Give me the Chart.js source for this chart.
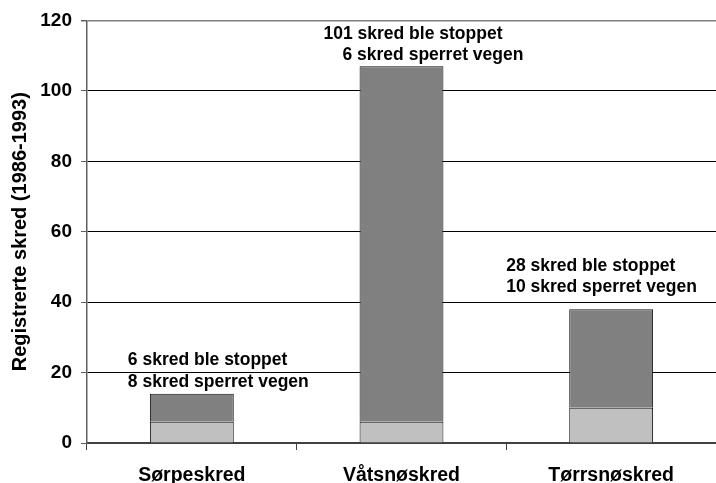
<!DOCTYPE html>
<html lang="no">
<head>
<meta charset="utf-8">
<title>Registrerte skred 1986-1993</title>
<script src="https://cdn.jsdelivr.net/npm/chart.js@4.4.1/dist/chart.umd.min.js"></script>
<style>
  html, body { margin: 0; padding: 0; background: #fff; }
  #wrap { position: relative; width: 716px; height: 483px; }
</style>
</head>
<body>
<div id="wrap"><canvas id="skredGraf"></canvas></div>
<script>
// --- Data ---
const kategorier = ['Sørpeskred', 'Våtsnøskred', 'Tørrsnøskred'];
const nedreSegment = [6, 6, 10];     // lys grå del av søylen
const ovreSegment = [8, 101, 28];    // mørk grå del oppå
const stoppetTekst = ['6 skred ble stoppet', '101 skred ble stoppet', '28 skred ble stoppet'];
const sperretTekst = ['8 skred sperret vegen', '6 skred sperret vegen', '10 skred sperret vegen'];
const yMaks = 120;
const ySteg = 20;

// Plassering av tekstene over søylene (piksler i forhold til søyletoppen)
const etikettPlassering = [
    { dx: [-64, -64], luft: 7 },
    { dx: [-78, -59], luft: 6 },
    { dx: [-105, -105], luft: 17 }
];

const FONT = '"Liberation Sans", Arial, sans-serif';

/**
 * Tegner de to tekstlinjene over hver søyle.
 */
const skredEtiketter = {
    id: 'skredEtiketter',
    afterDatasetsDraw(chart) {
        const ctx = chart.ctx;
        const meta = chart.getDatasetMeta(1);
        ctx.save();
        ctx.font = 'bold 17.5px ' + FONT;
        ctx.fillStyle = '#000';
        ctx.textAlign = 'left';
        ctx.textBaseline = 'alphabetic';
        meta.data.forEach((bar, i) => {
            const pos = etikettPlassering[i];
            const bunnlinje = bar.y - pos.luft;
            ctx.fillText(stoppetTekst[i], bar.x + pos.dx[0], bunnlinje - 21.5);
            ctx.fillText(sperretTekst[i], bar.x + pos.dx[1], bunnlinje);
        });
        ctx.restore();
    }
};

const ctx = document.getElementById('skredGraf').getContext('2d');
new Chart(ctx, {
    type: 'bar',
    data: {
        labels: kategorier,
        datasets: [{
            data: nedreSegment,
            backgroundColor: '#c0c0c0',
            borderColor: '#111',
            borderWidth: 1,
            barPercentage: 0.4,
            categoryPercentage: 1
        }, {
            data: ovreSegment,
            backgroundColor: '#808080',
            borderColor: '#111',
            borderWidth: 1,
            barPercentage: 0.4,
            categoryPercentage: 1
        }]
    },
    options: {
        responsive: true,
        maintainAspectRatio: false,
        animation: false,
        layout: { padding: { top: 20, right: 0, left: 0, bottom: 0 } },
        plugins: {
            legend: { display: false },
            tooltip: { enabled: false }
        },
        scales: {
            x: {
                stacked: true,
                offset: true,
                grid: {
                    offset: true,
                    drawOnChartArea: false,
                    drawTicks: true,
                    tickLength: 7,
                    tickColor: '#404040'
                },
                border: { color: '#404040', width: 2 },
                ticks: {
                    color: '#000',
                    padding: 14,
                    font: { family: FONT, size: 19.5, weight: 'bold' }
                },
                afterFit: (scale) => { scale.height = 40; }
            },
            y: {
                stacked: true,
                min: 0,
                max: yMaks,
                grid: {
                    color: (c) => (c.tick && c.tick.value === yMaks ? '#808080' : '#000'),
                    lineWidth: (c) => (c.tick && c.tick.value === yMaks ? 1.5 : 1),
                    tickLength: 6,
                    tickColor: '#606060'
                },
                border: { color: '#606060', width: 1.5 },
                ticks: {
                    stepSize: ySteg,
                    color: '#000',
                    padding: 9,
                    font: { family: FONT, size: 19, weight: 'bold' }
                },
                title: {
                    display: true,
                    text: 'Registrerte skred (1986-1993)',
                    color: '#000',
                    padding: { top: 8, bottom: 4 },
                    font: { family: FONT, size: 20, weight: 'bold' }
                },
                afterFit: (scale) => { scale.width = 87; }
            }
        }
    },
    plugins: [skredEtiketter]
});
</script>
</body>
</html>
